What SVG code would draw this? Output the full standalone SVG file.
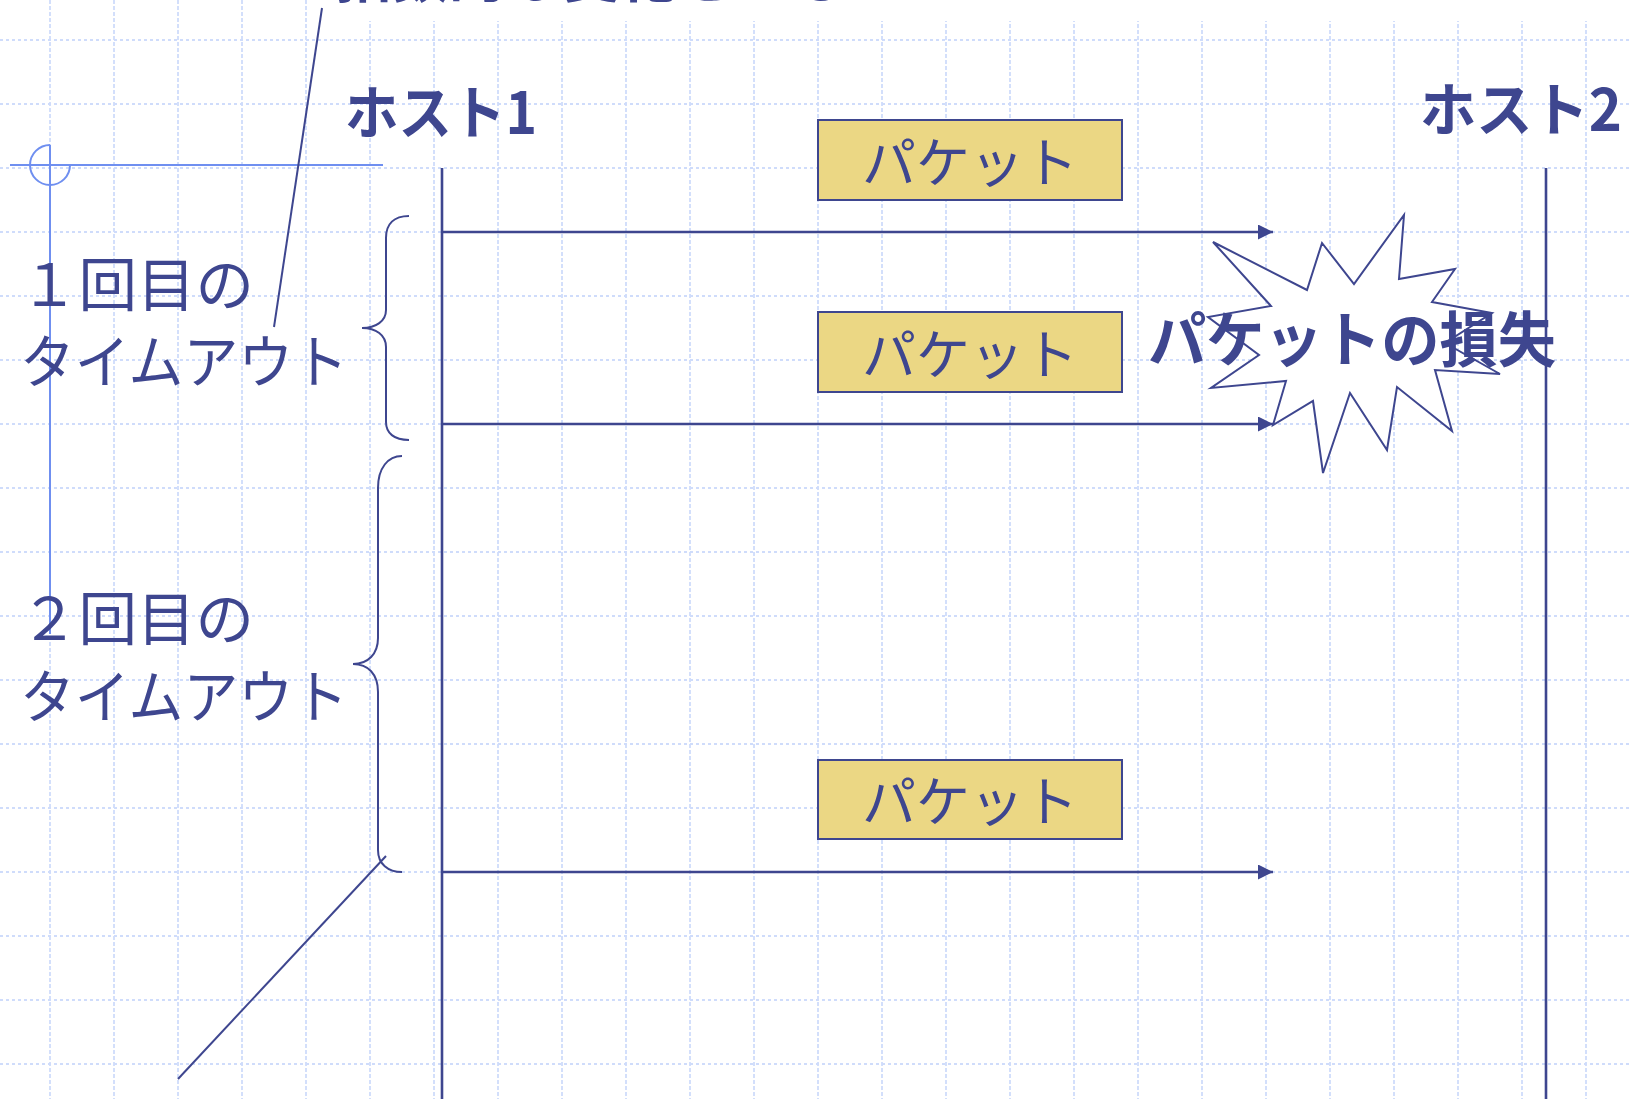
<svg xmlns="http://www.w3.org/2000/svg" width="1631" height="1099" viewBox="0 0 1631 1099">
<style>
.gh{stroke:#cfdcfb;stroke-width:1.8;stroke-dasharray:3 3;fill:none}
.gv{stroke:#cfdcfb;stroke-width:1.8;stroke-dasharray:4 2;fill:none}
.ink{stroke:#3e468f;fill:none}
.t{font-family:"Noto Sans CJK JP","Noto Sans",sans-serif;fill:#3e468f}
.b{font-weight:bold}
.pk{fill:#ebd784;stroke:#3e468f;stroke-width:2}
.conn{stroke:#3e468f;stroke-width:2.6;fill:none}
.guide{stroke:#6f8ff0;stroke-width:2;fill:none}
</style>
<defs>
<marker id="ah" markerWidth="15" markerHeight="15" refX="15" refY="7.5" orient="auto" markerUnits="userSpaceOnUse">
<path d="M0,0 L15,7.5 L0,15 Z" fill="#3e468f"/>
</marker>
</defs>
<rect width="1631" height="1099" fill="#ffffff"/>
<g id="grid">
<path class="gv" d="M50,0V1099M114,0V1099M178,0V1099M242,0V1099M306,0V1099M370,0V1099M434,0V1099M498,0V1099M562,0V1099M626,0V1099M690,0V1099M754,0V1099M818,0V1099M882,0V1099M946,0V1099M1010,0V1099M1074,0V1099M1138,0V1099M1202,0V1099M1266,0V1099M1330,0V1099M1394,0V1099M1458,0V1099M1522,0V1099M1586,0V1099"/>
<path class="gh" d="M0,40H1631M0,104H1631M0,168H1631M0,232H1631M0,296H1631M0,360H1631M0,424H1631M0,488H1631M0,552H1631M0,616H1631M0,680H1631M0,744H1631M0,808H1631M0,872H1631M0,936H1631M0,1000H1631M0,1064H1631"/>
</g>
<g id="guide">
<path class="guide" d="M10,165H383M50,145V634"/>
<path class="guide" d="M50,145 A20,20 0 1 0 70,165"/>
</g>
<g id="top-note">
<rect x="332" y="-10" width="1310" height="31" fill="#ffffff"/>
<text class="t b" x="335" y="-3" font-size="57">指数的な変化をとる</text>
</g>
<g id="callouts">
<path class="ink" stroke-width="2" d="M322,8 L274,327"/>
<path class="ink" stroke-width="2" d="M178,1079 L386,856"/>
</g>
<g id="brace1">
<path class="ink" stroke-width="2" d="M409,216 C394,216 386,224 386,238 L386,310 C386,321 376,328 362,328 C376,328 386,335 386,347 L386,422 C386,433 394,440 409,440"/>
</g>
<g id="brace2">
<path class="ink" stroke-width="2" d="M402,456 C388,456 378,468 378,488 L378,638 C378,654 368,664 353,664 C368,664 378,674 378,692 L378,850 C378,864 388,872 402,872"/>
</g>
<g id="loss">
<polygon points="1213,242 1307,290 1322,243 1354,284 1404,215 1399,279 1455,269 1432,302 1492,313 1445,343 1500,374 1435,370 1452,431 1397,387 1387,450 1350,393 1323,473 1313,401 1273,425 1286,381 1211,388 1259,355 1208,317 1271,306" fill="#ffffff" stroke="#3e468f" stroke-width="2"/>
</g>
<g id="connectors">
<line class="conn" x1="442" y1="232" x2="1273" y2="232" marker-end="url(#ah)"/>
<line class="conn" x1="442" y1="424" x2="1273" y2="424" marker-end="url(#ah)"/>
<line class="conn" x1="442" y1="872" x2="1273" y2="872" marker-end="url(#ah)"/>
</g>
<g id="host1">
<line class="ink" stroke-width="2.6" x1="442" y1="168" x2="442" y2="1099"/>
<text class="t b" x="345" y="134" font-size="58" textLength="192" lengthAdjust="spacingAndGlyphs">ホスト1</text>
</g>
<g id="host2">
<line class="ink" stroke-width="2.6" x1="1546" y1="168" x2="1546" y2="1099"/>
<text class="t b" x="1420" y="131" font-size="58" textLength="202" lengthAdjust="spacingAndGlyphs">ホスト2</text>
</g>
<g id="packet1">
<rect class="pk" x="818" y="120" width="304" height="80"/>
<text class="t" x="970" y="183" font-size="54" text-anchor="middle">パケット</text>
</g>
<g id="packet2">
<rect class="pk" x="818" y="312" width="304" height="80"/>
<text class="t" x="970" y="375" font-size="54" text-anchor="middle">パケット</text>
</g>
<g id="packet3">
<rect class="pk" x="818" y="760" width="304" height="79"/>
<text class="t" x="970" y="822" font-size="54" text-anchor="middle">パケット</text>
</g>
<g id="label1">
<text class="t" x="20" y="306" font-size="58" textLength="234" lengthAdjust="spacingAndGlyphs">１回目の</text>
<text class="t" x="20" y="383" font-size="58" textLength="328" lengthAdjust="spacingAndGlyphs">タイムアウト</text>
</g>
<g id="label2">
<text class="t" x="20" y="640" font-size="58" textLength="234" lengthAdjust="spacingAndGlyphs">２回目の</text>
<text class="t" x="20" y="718" font-size="58" textLength="328" lengthAdjust="spacingAndGlyphs">タイムアウト</text>
</g>
<g id="loss-label">
<text class="t b" x="1148" y="362" font-size="60" textLength="408" lengthAdjust="spacingAndGlyphs">パケットの損失</text>
</g>
</svg>
